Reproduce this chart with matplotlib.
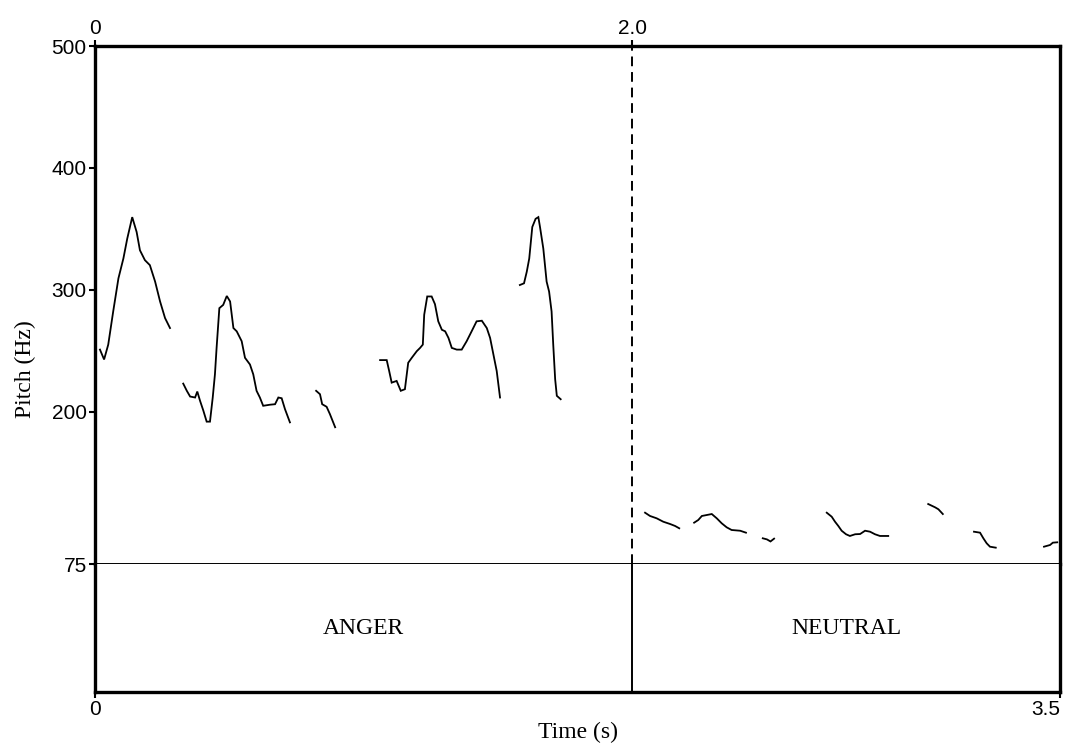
"""
Praat-style pitch contour with an interval tier (ANGER / NEUTRAL).
Output: out.png (1067x749 px)
"""
import matplotlib
matplotlib.use("Agg")
import matplotlib.pyplot as plt

# ── data ──────────────────────────────────────────────────────────────────────
T_MIN, T_MAX = 0.0, 3.5
F_MIN, F_MAX = 75, 500
PITCH_TICKS = [75, 200, 300, 400, 500]

TIER_EDGES  = [0.0, 1.948, 3.5]
TIER_LABELS = ["ANGER", "NEUTRAL"]
TOP_TICK_LABELS = ["0", "2.0"]

# voiced stretches (time in s, pitch in Hz)
a1_t = [0.018, 0.033, 0.048, 0.066, 0.085, 0.103, 0.117, 0.135, 0.151, 0.163,
        0.181, 0.199, 0.218, 0.236, 0.254, 0.272]
a1_f = [250.9, 242.8, 255.0, 282.2, 309.4, 325.7, 342.0, 359.6, 347.4, 332.4,
        324.3, 320.2, 306.7, 290.4, 276.8, 268.6]

a2_t = [0.320, 0.333, 0.345, 0.363, 0.371, 0.381, 0.393, 0.405, 0.417, 0.427,
        0.435, 0.441, 0.451, 0.465, 0.478, 0.490, 0.502, 0.514, 0.532, 0.544,
        0.562, 0.574, 0.586, 0.598, 0.610, 0.635, 0.653, 0.665, 0.677, 0.689,
        0.707]
a2_f = [223.0, 217.1, 212.4, 211.6, 216.5, 208.9, 200.8, 191.8, 191.8, 211.6,
        230.6, 252.3, 284.9, 287.6, 294.9, 290.4, 268.6, 265.9, 257.8, 244.2,
        238.7, 230.6, 217.1, 211.6, 204.8, 205.7, 206.1, 211.6, 211.0, 202.1,
        191.2]

a3_t = [0.802, 0.816, 0.824, 0.840, 0.852, 0.871]
a3_f = [217.1, 214.3, 206.1, 204.0, 198.0, 187.2]

a4_t = [1.034, 1.058, 1.067, 1.076, 1.094, 1.109, 1.124, 1.136, 1.149, 1.167,
        1.179, 1.189, 1.194, 1.205, 1.221, 1.233, 1.245, 1.258, 1.270, 1.282,
        1.294, 1.312, 1.330, 1.348, 1.366, 1.384, 1.403, 1.421, 1.433, 1.445,
        1.457, 1.469]
a4_f = [242.3, 242.3, 233.3, 223.8, 225.2, 217.1, 218.4, 240.1, 244.2, 249.6,
        252.3, 255.0, 279.5, 294.5, 294.5, 288.2, 274.1, 267.2, 265.9, 260.5,
        252.3, 250.9, 250.9, 257.8, 265.9, 274.1, 274.6, 268.6, 260.5, 246.9,
        233.3, 211.6]

a5_t = [1.541, 1.556, 1.566, 1.575, 1.586, 1.598, 1.608, 1.614, 1.626, 1.638,
        1.647, 1.656, 1.662, 1.669, 1.675, 1.689]
a5_f = [303.9, 305.3, 314.8, 325.7, 351.5, 358.2, 359.6, 351.5, 333.8, 306.7,
        298.5, 282.2, 255.0, 226.5, 213.0, 210.2]

n1_t = [1.995, 2.013, 2.037, 2.061, 2.086, 2.104, 2.119]
n1_f = [117.1, 114.4, 112.5, 109.7, 107.8, 106.2, 104.3]

n2_t = [2.173, 2.188, 2.201, 2.219, 2.237, 2.255, 2.273, 2.291, 2.309, 2.340,
        2.361]
n2_f = [108.9, 111.1, 114.4, 115.2, 116.0, 112.5, 108.4, 105.1, 102.9, 102.3,
        100.7]

n3_t = [2.422, 2.437, 2.450, 2.463]
n3_f = [96.1, 95.2, 93.5, 95.8]

n4_t = [2.654, 2.672, 2.684, 2.696, 2.708, 2.724, 2.738, 2.757, 2.775, 2.793,
        2.811, 2.829, 2.847, 2.877]
n4_f = [117.1, 113.8, 109.7, 106.2, 102.3, 99.4, 98.0, 99.4, 99.6, 102.3,
        101.5, 99.4, 98.0, 98.0]

n5_t = [3.022, 3.047, 3.059, 3.075]
n5_f = [124.2, 121.5, 119.9, 116.0]

n6_t = [3.188, 3.210, 3.222, 3.234, 3.246, 3.267]
n6_f = [101.5, 100.7, 96.1, 92.0, 89.2, 88.4]

n7_t = [3.442, 3.464, 3.474, 3.490]
n7_f = [89.2, 90.6, 92.5, 92.8]

SEGMENTS = [(a1_t, a1_f), (a2_t, a2_f), (a3_t, a3_f), (a4_t, a4_f),
            (a5_t, a5_f), (n1_t, n1_f), (n2_t, n2_f), (n3_t, n3_f),
            (n4_t, n4_f), (n5_t, n5_f), (n6_t, n6_f), (n7_t, n7_f)]

# ── layout ────────────────────────────────────────────────────────────────────
W, H = 1067, 749
X0, X1 = 95, 1060          # box left / right (px)
Y_TOP, Y_MID, Y_BOT = 46, 564, 692

SERIF = "Liberation Serif"
SANS = "Liberation Sans"
FRAME_LW = 2.4
THIN_LW = 1.4

fig = plt.figure(figsize=(W / 100, H / 100), dpi=100, facecolor="white")

def px_axes(x0, x1, ytop, ybot):
    return fig.add_axes([x0 / W, 1 - ybot / H, (x1 - x0) / W, (ybot - ytop) / H])

ax = px_axes(X0, X1, Y_TOP, Y_MID)   # pitch
tx = px_axes(X0, X1, Y_MID, Y_BOT)   # tier

# ── pitch panel ───────────────────────────────────────────────────────────────
for t, f in SEGMENTS:
    ax.plot(t, f, color="black", lw=1.3, solid_joinstyle="miter")

ax.axvline(TIER_EDGES[1], color="black", lw=THIN_LW, dashes=(5, 3))

ax.set_xlim(T_MIN, T_MAX)
ax.set_ylim(F_MIN, F_MAX)
ax.set_yticks(PITCH_TICKS)
ax.set_yticklabels([str(v) for v in PITCH_TICKS], fontfamily=SANS, fontsize=15)
ax.xaxis.tick_top()
ax.set_xticks(TIER_EDGES[:2])
ax.set_xticklabels(TOP_TICK_LABELS, fontfamily=SANS, fontsize=15)
ax.tick_params(axis="both", direction="out", length=4, width=1.5, pad=2,
               color="black")

for side in ("left", "top", "right"):
    ax.spines[side].set_linewidth(FRAME_LW)
ax.spines["bottom"].set_linewidth(THIN_LW)

# ── tier panel ────────────────────────────────────────────────────────────────
tx.set_xlim(T_MIN, T_MAX)
tx.set_ylim(0, 1)
tx.axvline(TIER_EDGES[1], color="black", lw=THIN_LW)
for lo, hi, lbl in zip(TIER_EDGES[:-1], TIER_EDGES[1:], TIER_LABELS):
    tx.text((lo + hi) / 2, 0.5, lbl, ha="center", va="center",
            fontfamily=SERIF, fontsize=17)

tx.set_yticks([])
tx.set_xticks([T_MIN, T_MAX])
tx.set_xticklabels(["0", "3.5"], fontfamily=SANS, fontsize=15)
tx.get_xticklabels()[-1].set_horizontalalignment("right")
tx.tick_params(axis="x", direction="out", length=4, width=1.5, pad=2)
tx.set_xlabel("Time (s)", fontfamily=SERIF, fontsize=17, labelpad=2)

tx.spines["top"].set_visible(False)
for side in ("left", "bottom", "right"):
    tx.spines[side].set_linewidth(FRAME_LW)

# y label centred on the whole box
fig.text(25 / W, 1 - ((Y_TOP + Y_BOT) / 2) / H, "Pitch (Hz)", rotation=90,
         ha="center", va="center", fontfamily=SERIF, fontsize=17)

fig.savefig("out.png", dpi=100, facecolor="white")
